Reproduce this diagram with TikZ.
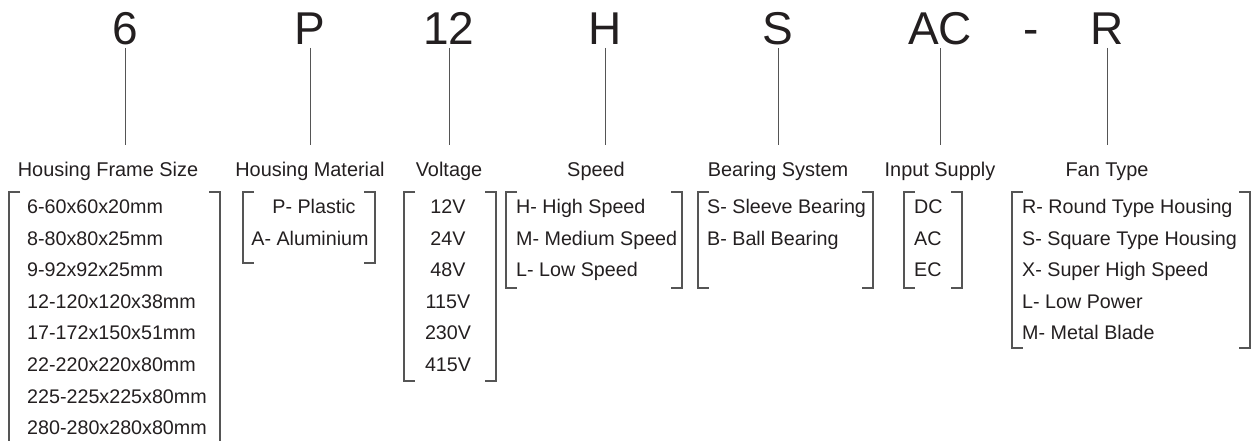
\documentclass[tikz,border=0pt]{standalone}
\usepackage{fontspec}
\setmainfont{Liberation Sans}
\definecolor{ink}{HTML}{231F20}
\definecolor{rule}{HTML}{555555}
\begin{document}
\begin{tikzpicture}[x=1pt,y=-1pt,
  big/.style={inner sep=0pt,outer sep=3pt,anchor=base,text=ink,font=\fontsize{46}{46}\selectfont},
  lbl/.style={inner sep=0pt,anchor=base,text=ink,font=\fontsize{19.9}{20}\selectfont},
  item/.style={inner sep=0pt,text=ink,font=\fontsize{19.7}{20}\selectfont},
  conn/.style={draw=rule,line width=0.9pt},
  brk/.style={draw=rule,line width=1.1pt}]
\useasboundingbox (0,0) rectangle (1253,441);
% code letters
\node[big] (t6) at (125,45) {6};
\node[big] (tP) at (310,45) {P};
\node[big] (t12) at (449,45) {12};
\node[big] (tH) at (605,45) {H};
\node[big] (tS) at (778,45) {S};
\node[big] (tAC) at (940,45) {AC};
\node[big] (tdash) at (1031,45) {-};
\node[big] (tR) at (1107,45) {R};
% connector ends
\coordinate (e6) at (125,145);
\coordinate (eP) at (310,145);
\coordinate (e12) at (449,145);
\coordinate (eH) at (605,145);
\coordinate (eS) at (778,145);
\coordinate (eAC) at (940,145);
\coordinate (eR) at (1107,145);
\foreach \n in {6,P,12,H,S,AC,R}{\draw[conn] (t\n.south) -- (e\n);}
% labels
\node[lbl] (l6) at (108,176.5) {Housing Frame Size};
\node[lbl] (lP) at (310,176.5) {Housing Material};
\node[lbl] (l12) at (449,176.5) {Voltage};
\node[lbl] (lH) at (596,176.5) {Speed};
\node[lbl] (lS) at (778,176.5) {Bearing System};
\node[lbl] (lAC) at (940,176.5) {Input Supply};
\node[lbl] (lR) at (1107,176.5) {Fan Type};
% brackets
\draw[brk] (20,192) -- (9,192) -- (9,442);
\draw[brk] (209,192) -- (220,192) -- (220,442);
\foreach \a/\b/\yb in {243/375/263, 404/496/381, 506/682/288, 698/873/288, 904/962/288, 1012/1250/348}{
  \draw[brk] (\a+11,192) -- (\a,192) -- (\a,\yb) -- (\a+11,\yb);
  \draw[brk] (\b-11,192) -- (\b,192) -- (\b,\yb) -- (\b-11,\yb);
}
% frame sizes
\foreach \t [count=\i from 0] in {6-60x60x20mm,8-80x80x25mm,9-92x92x25mm,12-120x120x38mm,17-172x150x51mm,22-220x220x80mm,225-225x225x80mm,280-280x280x80mm}{
  \node[item,anchor=base west] (fs\i) at (27,213.5+31.6*\i) {\t};
}
% material
\node[item,anchor=base] (m0) at (314,213.5) {P- Plastic};
\node[item,anchor=base] (m1) at (310,245.1) {A- Aluminium};
% voltage
\foreach \t [count=\i from 0] in {12V,24V,48V,115V,230V,415V}{
  \node[item,anchor=base] (v\i) at (448,213.5+31.6*\i) {\t};
}
% speed
\foreach \t [count=\i from 0] in {H- High Speed,M- Medium Speed,L- Low Speed}{
  \node[item,anchor=base west] (s\i) at (516,213.5+31.6*\i) {\t};
}
% bearing
\foreach \t [count=\i from 0] in {S- Sleeve Bearing,B- Ball Bearing}{
  \node[item,anchor=base west] (b\i) at (707,213.5+31.6*\i) {\t};
}
% input supply
\foreach \t [count=\i from 0] in {DC,AC,EC}{
  \node[item,anchor=base west] (i\i) at (914,213.5+31.6*\i) {\t};
}
% fan type
\foreach \t [count=\i from 0] in {R- Round Type Housing,S- Square Type Housing,X- Super High Speed,L- Low Power,M- Metal Blade}{
  \node[item,anchor=base west] (f\i) at (1022,213.5+31.6*\i) {\t};
}
\end{tikzpicture}
\end{document}
